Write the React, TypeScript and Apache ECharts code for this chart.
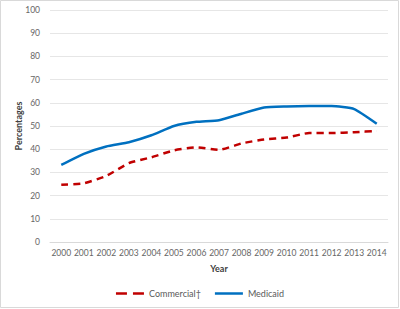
import React, { useEffect, useRef } from "react";
import * as echarts from "echarts";

const years = ["2000","2001","2002","2003","2004","2005","2006","2007","2008","2009","2010","2011","2012","2013","2014"];
const commercial = [24.7, 25.3, 28.5, 34.0, 36.5, 39.5, 40.8, 39.7, 42.5, 44.2, 45.0, 47.0, 47.0, 47.3, 47.9];
const medicaid = [33.2, 38.0, 41.2, 43.0, 46.0, 50.0, 51.8, 52.5, 55.3, 58.0, 58.4, 58.6, 58.6, 57.3, 51.0];

export default function App() {
  const ref = useRef<HTMLDivElement>(null);
  useEffect(() => {
    document.body.style.margin = "0";
    const chart = echarts.init(ref.current!, null, { renderer: "svg" });
    const font = "Lato, Open Sans, sans-serif";
    chart.setOption({
      animation: false,
      backgroundColor: "#ffffff",
      textStyle: { fontFamily: font },
      graphic: [
        {
          type: "rect",
          shape: { x: 0.5, y: 0.5, width: 398, height: 307 },
          style: { fill: "none", stroke: "#d9d9d9", lineWidth: 1 },
          silent: true,
        },
      ],
      grid: { left: 50, right: 12, top: 10, bottom: 67, containLabel: false },
      legend: {
        bottom: 6,
        left: "center",
        itemWidth: 28,
        itemHeight: 10,
        itemGap: 14,
        textStyle: { fontSize: 9, color: "#595959", fontFamily: font },
        data: [
          { name: "Commercial†", icon: "path://M0,0h11v2.5h-11z M17,0h11v2.5h-11z" },
          { name: "Medicaid", icon: "path://M0,0h28v2.5h-28z" },
        ],
      },
      xAxis: {
        type: "category",
        data: years,
        boundaryGap: true,
        name: "Year",
        nameLocation: "middle",
        nameGap: 22,
        nameTextStyle: { fontSize: 9, fontWeight: "bold", color: "#404040", fontFamily: font },
        axisLine: { show: true, lineStyle: { color: "#d9d9d9", width: 1 } },
        axisTick: { show: false },
        axisLabel: { fontSize: 8.5, color: "#666666", margin: 6, interval: 0 },
      },
      yAxis: {
        type: "value",
        min: 0,
        max: 100,
        interval: 10,
        name: "Percentages",
        nameLocation: "middle",
        nameGap: 27,
        nameMoveOverlap: false,
        nameTextStyle: { fontSize: 9, fontWeight: "bold", color: "#404040", fontFamily: font },
        axisLine: { show: false },
        axisTick: { show: false },
        axisLabel: { fontSize: 8.5, color: "#666666", margin: 10 },
        splitLine: { lineStyle: { color: "#e6e6e6", width: 1 } },
      },
      series: [
        {
          name: "Commercial†",
          type: "line",
          data: commercial,
          smooth: 0.15,
          symbol: "none",
          itemStyle: { color: "#c00000" },
          lineStyle: { color: "#c00000", width: 2.5, type: [7, 5] },
        },
        {
          name: "Medicaid",
          type: "line",
          data: medicaid,
          smooth: 0.15,
          symbol: "none",
          itemStyle: { color: "#0070c0" },
          lineStyle: { color: "#0070c0", width: 2.5 },
        },
      ],
    });
    return () => chart.dispose();
  }, []);
  return <div ref={ref} style={{ width: 400, height: 309 }} />;
}
